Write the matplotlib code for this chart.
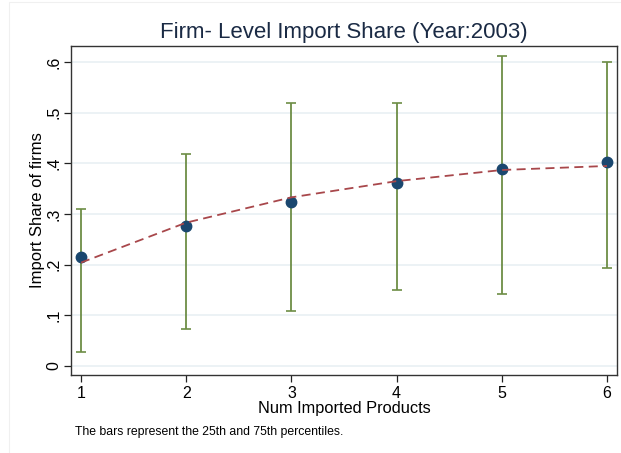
import numpy as np
import matplotlib.pyplot as plt
from matplotlib.patches import Rectangle

plt.rcParams['font.family'] = ['Liberation Sans', 'DejaVu Sans']

# ----------- DATA -----------
num_products = [1, 2, 3, 4, 5, 6]
mean_share = [0.215, 0.277, 0.323, 0.361, 0.389, 0.403]
p25 = [0.028, 0.072, 0.109, 0.149, 0.142, 0.193]
p75 = [0.310, 0.419, 0.520, 0.520, 0.613, 0.601]
fitted = [0.204, 0.283, 0.333, 0.365, 0.387, 0.395]

y_ticks = [0, 0.1, 0.2, 0.3, 0.4, 0.5, 0.6]
y_ticklabels = ["0", ".1", ".2", ".3", ".4", ".5", ".6"]

# ----------- COLOURS -----------
navy = "#1a476f"
green = "#6d8d45"
maroon = "#a8474b"
grid_col = "#e9f0f3"

fig = plt.figure(figsize=(6.21, 4.53), dpi=100)
fig.patch.set_facecolor("white")
# faint outer frame
fig.patches.append(Rectangle((9 / 621, -0.01), 1.0, 1 - 2 / 453 + 0.01,
                             transform=fig.transFigure, fill=False,
                             edgecolor="#f0f0f0", linewidth=0.8))

ax = fig.add_axes([71 / 621, 1 - 375 / 453, 546 / 621, 329 / 453])

x = np.array(num_products)
mean_share = np.array(mean_share)
lo = mean_share - np.array(p25)
hi = np.array(p75) - mean_share

ax.errorbar(x, mean_share, yerr=[lo, hi], fmt="none", ecolor=green,
            elinewidth=1.3, capsize=3.5, capthick=1.2, zorder=2)
ax.plot(x, mean_share, "o", color=navy, markersize=7.5, zorder=3)
ax.plot(x, fitted, "--", color=maroon, linewidth=1.3, dashes=(5, 3), zorder=4)

ax.set_xlim(0.905, 6.095)
ax.set_ylim(-0.018, 0.632)
ax.set_xticks(num_products)
ax.set_yticks(y_ticks)
ax.set_yticklabels(y_ticklabels, rotation=90, va="center")
ax.tick_params(axis="both", direction="out", length=5, width=0.9,
               labelsize=11.5, colors="#222222", labelcolor="black")
ax.tick_params(axis="x", pad=3)
ax.tick_params(axis="y", pad=2)

ax.yaxis.grid(True, color=grid_col, linewidth=1.2)
ax.set_axisbelow(True)
for s in ax.spines.values():
    s.set_color("#333333")
    s.set_linewidth(1.0)

ax.set_title("Firm- Level Import Share (Year:2003)", fontsize=16,
             color="#1a2a44", pad=6)
ax.set_xlabel("Num Imported Products", fontsize=11.8, labelpad=0)
ax.set_ylabel("Import Share of firms", fontsize=12, labelpad=1)

fig.text(75 / 621, 1 - 432 / 453, "The bars represent the 25th and 75th percentiles.",
         fontsize=8.8, va="center", ha="left", color="black")

fig.savefig("out.png", dpi=100)
